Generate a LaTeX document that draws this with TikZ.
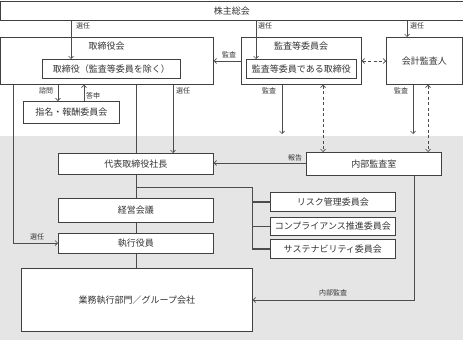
\documentclass[tikz,border=0pt]{standalone}
\usepackage{fontspec}
\setmainfont{Noto Sans CJK JP}
\usetikzlibrary{arrows.meta}
\begin{document}
\begin{tikzpicture}[x=1pt,y=-1pt,
  ln/.style={draw=black!70, line width=0.7pt},
  tip/.tip={Straight Barb[length=2.5pt,width=5pt]},
  arr/.style={ln, -tip},
  darr/.style={ln, dash pattern=on 3pt off 2.5pt, tip-tip},
  box/.style={draw=black!75, fill=white, line width=0.7pt, inner sep=0pt, anchor=north west, font=\fontsize{9}{10}\selectfont, text=black!80},
  ttl/.style={font=\fontsize{9}{10}\selectfont, text=black!80, inner sep=0pt},
  lbl/.style={font=\fontsize{7}{8}\selectfont, text=black!80, inner sep=0pt},
]
\useasboundingbox (0,0) rectangle (463,340);
\fill[black!10] (0,136) rectangle (463,340);

% boxes
\node[box, minimum width=462pt, minimum height=19pt] (sh) at (0.5,1) {株主総会};
\node[box, minimum width=212.5pt, minimum height=47pt] (bod) at (0.5,37) {};
\node[ttl] (bodt) at (106.5,46) {取締役会};
\node[box, minimum width=138pt, minimum height=19pt] (dir) at (42,59) {取締役（監査等委員を除く）};
\node[box, minimum width=96pt, minimum height=22pt] (nom) at (23,101) {指名・報酬委員会};
\node[box, minimum width=120pt, minimum height=47pt] (ac) at (241,37) {};
\node[ttl] (act) at (301,46) {監査等委員会};
\node[box, minimum width=110pt, minimum height=19pt] (acd) at (246,59) {監査等委員である取締役};
\node[box, minimum width=76pt, minimum height=47pt] (ext) at (386,37) {会計監査人};
\node[box, minimum width=155pt, minimum height=21pt] (pres) at (58,153) {代表取締役社長};
\node[box, minimum width=155pt, minimum height=24pt] (mgm) at (58,198) {経営会議};
\node[box, minimum width=155pt, minimum height=20pt] (exo) at (58,233) {執行役員};
\node[box, minimum width=231pt, minimum height=63pt] (biz) at (21,268) {業務執行部門／グループ会社};
\node[box, minimum width=125pt, minimum height=19pt] (risk) at (270,192) {リスク管理委員会};
\node[box, minimum width=125pt, minimum height=18pt] (comp) at (270,217) {コンプライアンス推進委員会};
\node[box, minimum width=125pt, minimum height=19pt] (sus) at (270,239) {サステナビリティ委員会};
\node[box, minimum width=135pt, minimum height=23pt] (ia) at (306,152) {内部監査室};

% helper coordinates
\coordinate (c71) at (71,0);
\coordinate (c256) at (256,0);
\coordinate (c407) at (407,0);
\coordinate (c58) at (58,0);
\coordinate (c84) at (84,0);
\coordinate (c173) at (173,0);
\coordinate (c136) at (136,0);
\coordinate (c323) at (323,0);
\coordinate (c428) at (428,0);
\coordinate (y61) at (0,61);
\coordinate (y163) at (0,163);
\coordinate (c13) at (13,243);
\coordinate (c414) at (414,300);
\coordinate (j1) at (136,187);
\coordinate (c252) at (252,248.5);
\coordinate (aud1) at (282,134);
\coordinate (aud2) at (413,134);

% connectors
\draw[arr] (sh.south -| c71) -- (dir.north -| c71);
\draw[arr] (sh.south -| c256) -- (acd.north -| c256);
\draw[arr] (sh.south -| c407) -- (ext.north -| c407);
\draw[arr] (ac.west |- y61) -- (bod.east |- y61);
\draw[darr] (ac.east |- y61) -- (ext.west |- y61);
\draw[arr] (bod.south -| c58) -- (nom.north -| c58);
\draw[arr] (nom.north -| c84) -- (bod.south -| c84);
\draw[arr] (bod.south -| c13) |- (exo.west |- c13);
\draw[ln] (bod.south -| c136) -- (pres.north -| c136);
\draw[arr] (bod.south -| c173) -- (pres.north -| c173);
\draw[arr] (ac.south -| aud1) -- (aud1);
\draw[arr] (ext.south -| aud2) -- (aud2);
\draw[darr] (ac.south -| c323) -- (ia.north -| c323);
\draw[darr] (ext.south -| c428) -- (ia.north -| c428);
\draw[arr] (ia.west |- y163) -- (pres.east |- y163);
\draw[arr] (ia.south -| c414) |- (biz.east |- c414);
\draw[ln] (pres.south) -- (mgm.north);
\draw[ln] (mgm.south) -- (exo.north);
\draw[ln] (exo.south -| c136) -- (biz.north -| c136);
\draw[ln] (j1) -| (c252);
\draw[ln, line width=1.3pt] (risk.west) -- (risk.west -| c252);
\draw[ln, line width=1.3pt] (comp.west) -- (comp.west -| c252);
\draw[ln, line width=1.3pt] (sus.west) -- (sus.west -| c252);

% labels
\node[lbl] (l1) at (83,26) {選任};
\node[lbl] (l2) at (265,26) {選任};
\node[lbl] (l3) at (417,26) {選任};
\node[lbl] (l4) at (229,55) {監査};
\node[lbl] (l5) at (46,91) {諮問};
\node[lbl] (l6) at (93,96) {答申};
\node[lbl] (l7) at (183,91) {選任};
\node[lbl] (l8) at (269,91) {監査};
\node[lbl] (l9) at (401,91) {監査};
\node[lbl] (l10) at (295,158) {報告};
\node[lbl] (l11) at (37,237) {選任};
\node[lbl] (l12) at (333,293) {内部監査};
\end{tikzpicture}
\end{document}
